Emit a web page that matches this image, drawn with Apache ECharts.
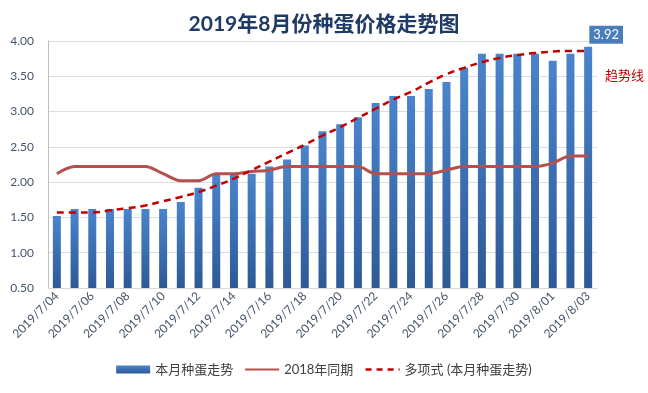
<!DOCTYPE html>
<html>
<head>
<meta charset="utf-8">
<script src="https://cdn.jsdelivr.net/npm/echarts@6/dist/echarts.min.js"></script>
<style>
html,body{margin:0;padding:0;background:#fff;}
#main{width:648px;height:393px;}
</style>
</head>
<body>
<div id="main"></div>
<script>
const categories = ['2019/7/04','2019/7/05','2019/7/06','2019/7/07','2019/7/08','2019/7/09','2019/7/10','2019/7/11','2019/7/12','2019/7/13','2019/7/14','2019/7/15','2019/7/16','2019/7/17','2019/7/18','2019/7/19','2019/7/20','2019/7/21','2019/7/22','2019/7/23','2019/7/24','2019/7/25','2019/7/26','2019/7/27','2019/7/28','2019/7/29','2019/7/30','2019/7/31','2019/8/01','2019/8/02','2019/8/03'];
const thisMonth = [1.52,1.62,1.62,1.62,1.62,1.62,1.62,1.72,1.92,2.12,2.12,2.12,2.22,2.32,2.52,2.72,2.82,2.92,3.12,3.22,3.22,3.32,3.42,3.62,3.82,3.82,3.82,3.82,3.72,3.82,3.92];
const lastYear = [2.12,2.22,2.22,2.22,2.22,2.22,2.12,2.02,2.02,2.12,2.12,2.15,2.17,2.22,2.22,2.22,2.22,2.22,2.12,2.12,2.12,2.12,2.17,2.22,2.22,2.22,2.22,2.22,2.27,2.37,2.37];
const trend = [1.57,1.57,1.57,1.60,1.63,1.67,1.73,1.79,1.86,1.95,2.05,2.17,2.29,2.41,2.53,2.66,2.78,2.91,3.04,3.17,3.28,3.41,3.53,3.62,3.70,3.76,3.80,3.83,3.85,3.86,3.86];
const seriesNames = ['本月种蛋走势','2018年同期','多项式 (本月种蛋走势)'];
const titleText = '2019年8月份种蛋价格走势图';
const yMin = 0.5, yMax = 4.0, yStep = 0.5;

const FONT = 'Lato, "Noto Sans CJK SC", sans-serif';
const chart = echarts.init(document.getElementById('main'), null, {renderer:'canvas'});

const barData = thisMonth.map((v,i) => {
  if (i === thisMonth.length - 1) {
    return {value: v, label: {show: true, position: 'top', distance: 3, offset: [18, 0],
      formatter: (p) => p.value.toFixed(2), color: '#fff', backgroundColor: '#4a7ebb',
      padding: [3, 4, 2, 4], fontSize: 13, fontFamily: FONT}};
  }
  return v;
});

chart.setOption({
  animation: false,
  backgroundColor: '#fff',
  title: {
    text: titleText, left: 'center', top: 9,
    textStyle: {fontSize: 21, fontWeight: 'bold', color: '#1f3a64', fontFamily: FONT}
  },
  grid: {left: 48, right: 51, top: 41, bottom: 105, containLabel: false},
  legend: {
    bottom: 12, left: 'center', itemGap: 11, itemWidth: 34, itemHeight: 8,
    textStyle: {fontSize: 13, color: '#404040', fontFamily: FONT},
    data: [
      {name: seriesNames[0], icon: 'rect'},
      {name: seriesNames[1], itemStyle: {opacity: 0}, lineStyle: {width: 2}},
      {name: seriesNames[2], itemStyle: {opacity: 0}, lineStyle: {width: 2.5, type: [6, 5]}}
    ]
  },
  xAxis: {
    type: 'category', data: categories, boundaryGap: true,
    axisLine: {show: true, lineStyle: {color: '#d9d9d9'}},
    axisTick: {show: false},
    axisLabel: {interval: 1, rotate: 45, fontSize: 12, color: '#44546a', fontFamily: FONT, margin: 6}
  },
  yAxis: {
    type: 'value', min: yMin, max: yMax, interval: yStep,
    axisLine: {show: true, lineStyle: {color: '#bfbfbf'}},
    axisTick: {show: false},
    axisLabel: {formatter: (v) => v.toFixed(2), fontSize: 12, color: '#44546a', fontFamily: FONT, margin: 14},
    splitLine: {lineStyle: {color: '#d9dde6'}}
  },
  series: [
    {
      name: seriesNames[0], type: 'bar', data: barData, barWidth: 8,
      itemStyle: {color: new echarts.graphic.LinearGradient(0,0,0,1,[
        {offset: 0, color: '#4a84cc'}, {offset: 1, color: '#2d5a97'}])},
      z: 2
    },
    {
      name: seriesNames[1], type: 'line', data: lastYear, smooth: 0.3,
      symbol: 'none', lineStyle: {color: '#b4504e', width: 3},
      itemStyle: {color: '#b4504e'}, z: 3
    },
    {
      name: seriesNames[2], type: 'line', data: trend, smooth: true,
      symbol: 'none', lineStyle: {color: '#c00000', width: 2.5, type: [7, 5]},
      itemStyle: {color: '#c00000'}, z: 4
    }
  ],
  graphic: [
    {type: 'text', left: 605, top: 69, style: {text: '趋势线', fill: '#c00000', fontSize: 13, fontFamily: FONT}}
  ]
});
</script>
</body>
</html>
